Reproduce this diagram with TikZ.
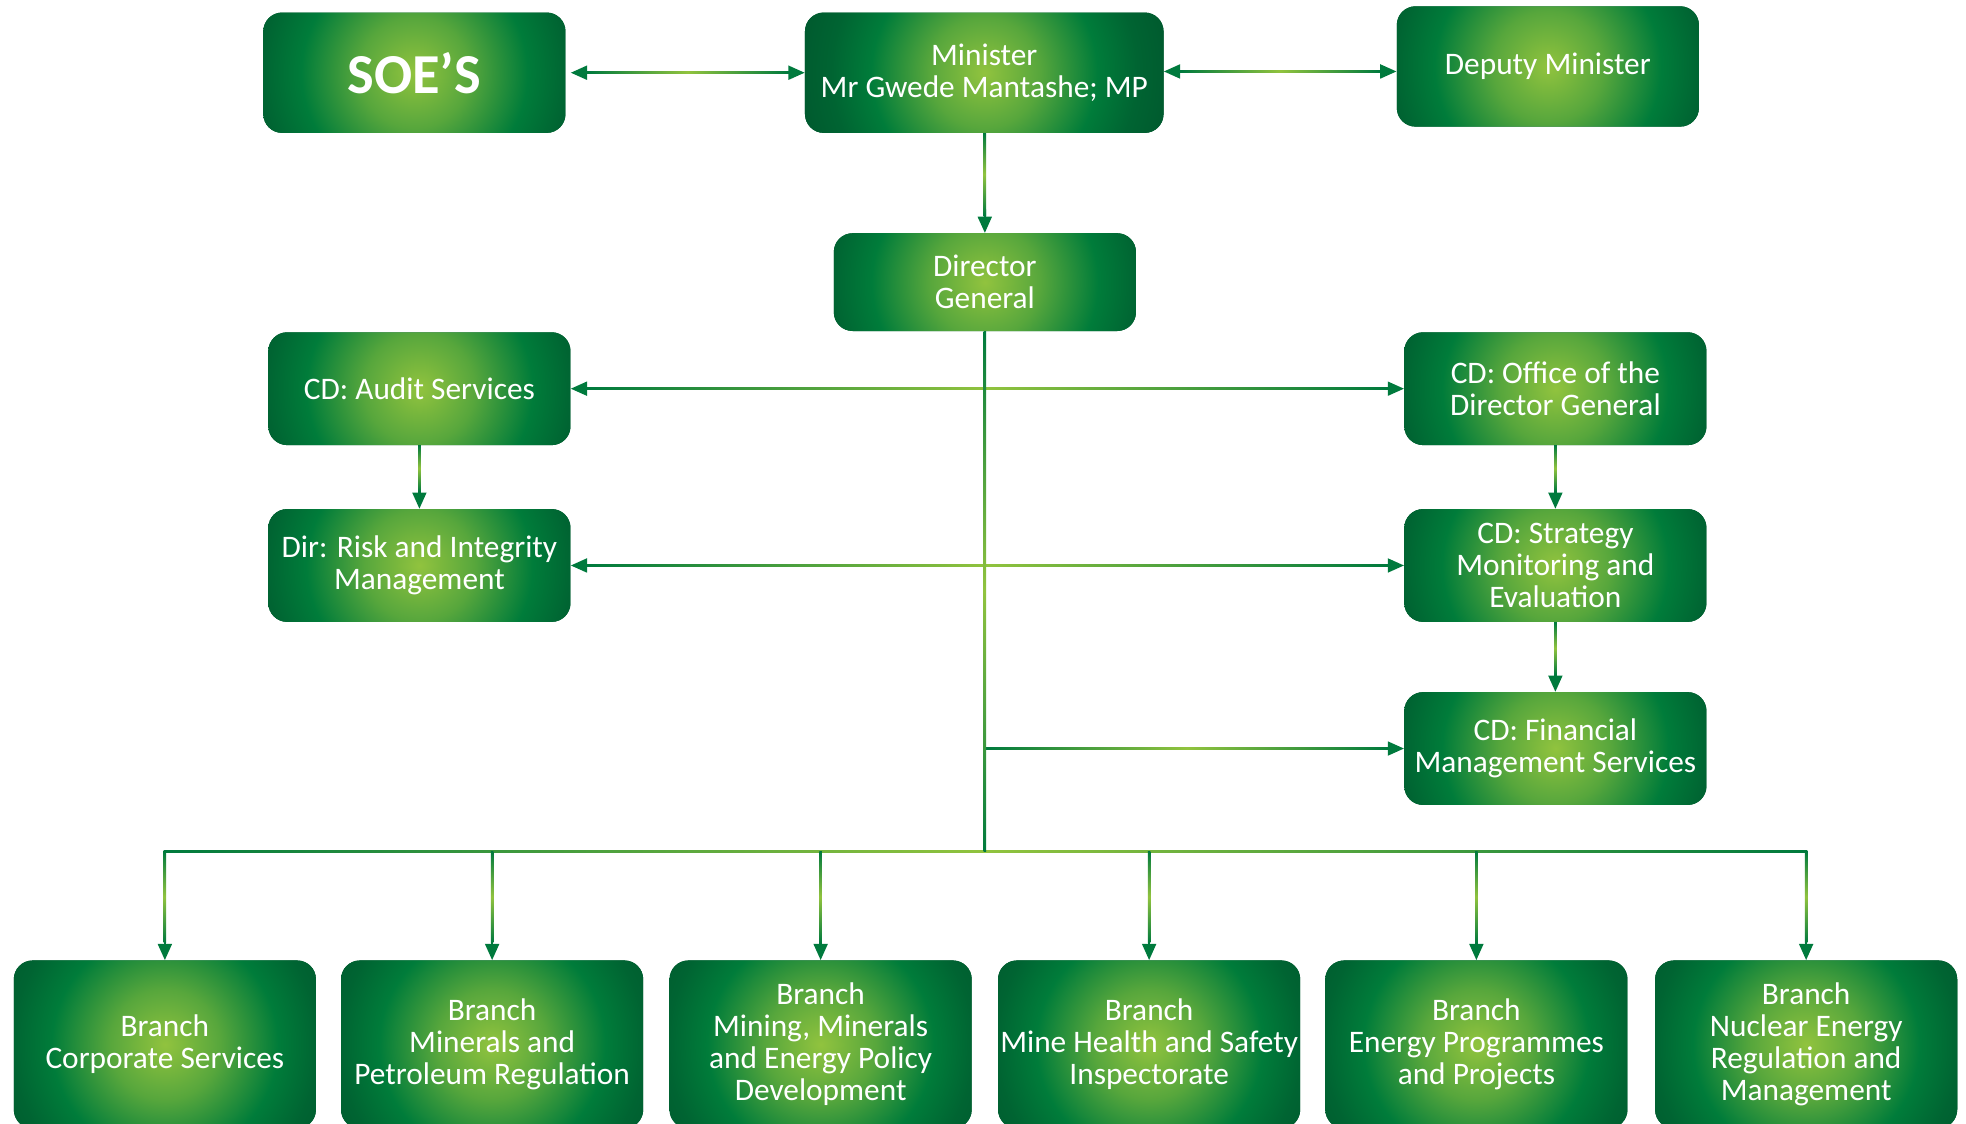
\documentclass[tikz,border=0pt]{standalone}
\usepackage{fontspec}
\setmainfont{Carlito}
\usetikzlibrary{arrows.meta,calc}
\definecolor{xdg}{RGB}{0,86,45}
\definecolor{dkg}{RGB}{0,100,50}
\definecolor{mdg}{RGB}{0,124,58}
\definecolor{ltg}{RGB}{145,195,62}
\colorlet{ltm}{ltg!60!mdg}
\definecolor{lineg}{RGB}{0,122,61}
\pgfdeclareradialshading{boxglow}{\pgfpoint{0bp}{0bp}}{color(0bp)=(ltg); color(6.9bp)=(ltm); color(14.1bp)=(mdg); color(19.1bp)=(dkg); color(25bp)=(xdg); color(50bp)=(xdg)}
\tikzset{
  box/.style={rounded corners=15pt, fill=xdg, text=white, align=center,
    path picture={\shade[shading=boxglow] (path picture bounding box.center) circle (160pt);},
    minimum width=241pt, minimum height=90pt, inner sep=0pt,
    font=\fontsize{25}{25.5}\selectfont},
  conn/.style={draw=lineg, line width=2pt},
  arr/.style={conn, -{Triangle[length=13pt,width=11pt]}},
  darr/.style={conn, {Triangle[length=13pt,width=11pt]}-{Triangle[length=13pt,width=11pt]}},
  glowh/.style={left color=lineg, right color=lineg, middle color=ltg},
  glowv/.style={top color=lineg, bottom color=lineg, middle color=ltg}
}
% gradient overlays on connectors (between two named points)
\newcommand\glowH[2]{\shade[glowh] ($(#1)+(14,-1)$) rectangle ($(#2)+(-14,1)$);}
\newcommand\glowV[2]{\shade[glowv] ($(#1)+(-1,0)$) rectangle ($(#2)+(1,-14)$);}
\begin{document}
\begin{tikzpicture}[x=1pt,y=-1pt]
\useasboundingbox (0,0) rectangle (1568,896);
\clip (0,0) rectangle (1568,896);
% top row
\node[box, minimum height=96pt, font=\fontsize{45}{46}\selectfont\bfseries] (soe) at (330.5,58) {SOE’S};
\node[box, minimum width=286pt, minimum height=96pt] (min) at (785,58) {\strut Minister\\Mr Gwede Mantashe; MP};
\node[box, minimum height=96pt] (dep) at (1234.5,53) {Deputy Minister};
\node[box, minimum height=78pt] (dg) at (785.5,225) {Director\\General};
% side columns
\node[box] (aud) at (334.5,310) {CD: Audit Services};
\node[box] (risk) at (334.5,451) {Dir: Risk and Integrity\\Management};
\node[box] (off) at (1240.5,310) {CD: Office of the\\Director General};
\node[box] (str) at (1240.5,451) {CD: Strategy\\Monitoring and\\Evaluation};
\node[box] (fin) at (1240.5,597) {CD: Financial\\Management Services};
% branches
\node[box, minimum height=134pt] (b1) at (131.5,833) {Branch\\Corporate Services};
\node[box, minimum height=134pt] (b2) at (392.5,833) {Branch\\Minerals and\\Petroleum Regulation};
\node[box, minimum height=134pt] (b3) at (654.5,833) {Branch\\Mining, Minerals\\and Energy Policy\\Development};
\node[box, minimum height=134pt] (b4) at (916.5,833) {Branch\\Mine Health and Safety\\Inspectorate};
\node[box, minimum height=134pt] (b5) at (1177.5,833) {Branch\\Energy Programmes\\and Projects};
\node[box, minimum height=134pt] (b6) at (1440.5,833) {Branch\\Nuclear Energy\\Regulation and\\Management};
\coordinate (bus) at (788,679);
\coordinate (soeR) at ($(soe.east)+(4,0)$);
\coordinate (minL) at (min.west);
\coordinate (minR) at (min.east |- 0,57);
\coordinate (depL) at (dep.west |- 0,57);
\coordinate (trunkF) at (dg.south |- fin.west);
\coordinate (trunkB) at (dg.south |- bus);
\coordinate (busL) at (b1.north |- bus);
\coordinate (busR) at (b6.north |- bus);
% connectors
\draw[darr] (soeR) -- (minL);
\draw[darr] (minR) -- (depL);
\draw[arr] (min.south) -- (dg.north);
\draw[conn] (dg.south) -- (trunkB);
\draw[darr] (aud.east) -- (off.west);
\draw[darr] (risk.east) -- (str.west);
\draw[arr] (aud.south) -- (risk.north);
\draw[arr] (off.south) -- (str.north);
\draw[arr] (str.south) -- (fin.north);
\draw[arr] (trunkF) -- (fin.west);
\draw[conn] (busL) -- (busR);
\foreach \b in {b1,b2,b3,b4,b5,b6}{\draw[arr] (\b.north |- bus) -- (\b.north);}
% light gradient in the middle of each connector
\glowH{soeR}{minL}
\glowH{minR}{depL}
\glowH{aud.east}{off.west}
\glowH{risk.east}{str.west}
\shade[glowh] ($(trunkF)+(2,-1)$) rectangle ($(fin.west)+(-14,1)$);
\shade[glowh] ($(busL)+(-1,-1)$) rectangle ($(busR)+(1,1)$);
\glowV{min.south}{dg.north}
\shade[glowv] ($(dg.south)+(-1,0)$) rectangle ($(trunkB)+(1,0)$);
\glowV{aud.south}{risk.north}
\glowV{off.south}{str.north}
\glowV{str.south}{fin.north}
\foreach \b in {b1,b2,b3,b4,b5,b6}{\glowV{\b.north |- bus}{\b.north}}
\end{tikzpicture}
\end{document}
